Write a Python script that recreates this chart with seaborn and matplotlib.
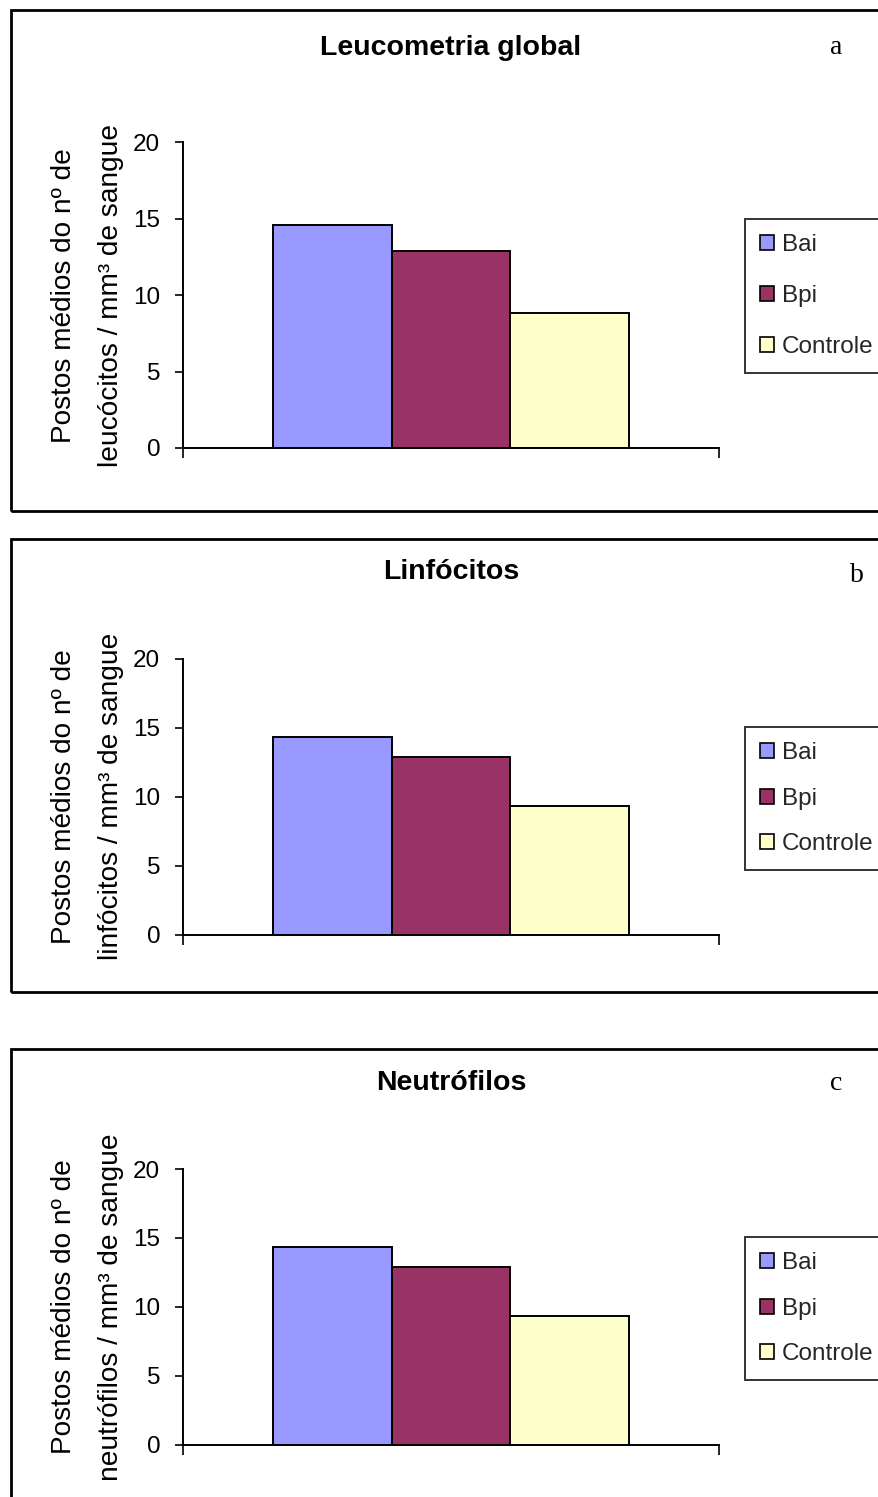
import matplotlib
matplotlib.use("Agg")
import matplotlib.pyplot as plt
import seaborn as sns
import pandas as pd
from matplotlib.patches import Rectangle

# ---------------- data ----------------
groups = ["Bai", "Bpi", "Controle"]
leucometria = [14.6, 12.9, 8.85]
linfocitos = [14.35, 12.9, 9.3]
neutrofilos = [14.35, 12.9, 9.3]
titles = ["Leucometria global", "Linfócitos", "Neutrófilos"]
letters = ["a", "b", "c"]
ylabel_line1 = "Postos médios do nº de"
ylabel_line2 = ["leucócitos / mm³ de sangue",
                "linfócitos / mm³ de sangue",
                "neutrófilos / mm³ de sangue"]
yticks = [0, 5, 10, 15, 20]
colors = ["#9999FF", "#993366", "#FFFFCC"]

# ---------------- layout (pixels) ----------------
W, H = 879, 1497
DPI = 100
sns.set_theme(style="white")
plt.rcParams["font.family"] = ["Liberation Sans", "DejaVu Sans"]

SANS = ["Liberation Sans", "DejaVu Sans"]

fig = plt.figure(figsize=(W / DPI, H / DPI), dpi=DPI)

def fx(px):
    return px / W

def fy(py):
    return 1 - py / H

panels = [
    dict(vals=leucometria, ax=(183, 142.3, 719, 448), frame=(11, 10, 910, 510.7),
         title_y=48, letter=(836, 47), leg=(745, 219), lab_spacing=1.2),
    dict(vals=linfocitos, ax=(183, 659, 719, 934.7), frame=(11, 538.7, 910, 992),
         title_y=572, letter=(857, 576), leg=(745, 727), lab_spacing=0.97),
    dict(vals=neutrofilos, ax=(183, 1169, 719, 1444.7), frame=(11, 1048.7, 910, 1520),
         title_y=1083, letter=(836, 1083), leg=(745, 1237), lab_spacing=0.97),
]

for i, p in enumerate(panels):
    x0, y0, x1, y1 = p["ax"]
    ax = fig.add_axes([fx(x0), fy(y1), fx(x1) - fx(x0), fy(y0) - fy(y1)])
    df = pd.DataFrame({"cat": [""] * len(groups), "grupo": groups, "valor": p["vals"]})
    sns.barplot(data=df, x="cat", y="valor", hue="grupo", hue_order=groups,
                palette=colors, saturation=1, width=0.664, edgecolor="black",
                linewidth=1.4, ax=ax, legend=True, errorbar=None)
    ax.set_xlim(-0.5, 0.5)
    ax.set_ylim(0, 20)
    ax.set_yticks(yticks)
    ax.set_yticklabels([str(t) for t in yticks], fontfamily=SANS, fontsize=17.5, color="black")
    ax.set_xticks([-0.5, 0.5])
    ax.set_xticklabels(["", ""])
    ax.tick_params(axis="y", direction="out", length=5.8, width=1.2, pad=10.5, left=True, color="black")
    ax.tick_params(axis="x", direction="out", length=7.5, width=1.2, bottom=True, color="black")
    ax.set_xlabel("")
    ax.set_ylabel("")
    for s in ["top", "right"]:
        ax.spines[s].set_visible(False)
    for s in ["left", "bottom"]:
        ax.spines[s].set_color("black")
        ax.spines[s].set_linewidth(1.4)
    ax.patch.set_alpha(0)

    handles, labels = ax.get_legend_handles_labels()
    ax.get_legend().remove()
    for h in handles:
        h.set_edgecolor("black")
        h.set_linewidth(1.2)
    lx, ly = p["leg"]
    leg = fig.legend(handles, labels, loc="upper left", bbox_to_anchor=(fx(lx), fy(ly)),
                     bbox_transform=fig.transFigure, frameon=True, fancybox=False,
                     prop={"family": SANS, "size": 17.5}, handlelength=0.58, handleheight=0.58,
                     handletextpad=0.33, borderpad=0.62, labelspacing=p["lab_spacing"],
                     borderaxespad=0)
    leg.get_frame().set_edgecolor("black")
    leg.get_frame().set_linewidth(1.4)

    # frame around panel
    fx0, fy0, fx1, fy1 = p["frame"]
    fig.add_artist(Rectangle((fx(fx0), fy(fy1)), fx(fx1) - fx(fx0), fy(fy0) - fy(fy1),
                             transform=fig.transFigure, fill=False, edgecolor="black",
                             linewidth=2.0, clip_on=False))

    # title and letter
    fig.text(fx(451), fy(p["title_y"]), titles[i], ha="center", va="center",
             fontfamily=SANS, fontweight="bold", fontsize=20.5, color="black")
    lxp, lyp = p["letter"]
    fig.text(fx(lxp), fy(lyp), letters[i], ha="center", va="center",
             fontfamily=["Liberation Serif", "DejaVu Serif"], fontsize=20, color="black")

    # y labels (two lines)
    yc = (y0 + y1) / 2
    fig.text(fx(64), fy(yc), ylabel_line1, rotation=90, ha="center", va="center",
             fontsize=20.2, color="black")
    fig.text(fx(111), fy(yc), ylabel_line2[i], rotation=90, ha="center", va="center",
             fontsize=20.2, color="black")

fig.savefig("out.png", dpi=DPI)
